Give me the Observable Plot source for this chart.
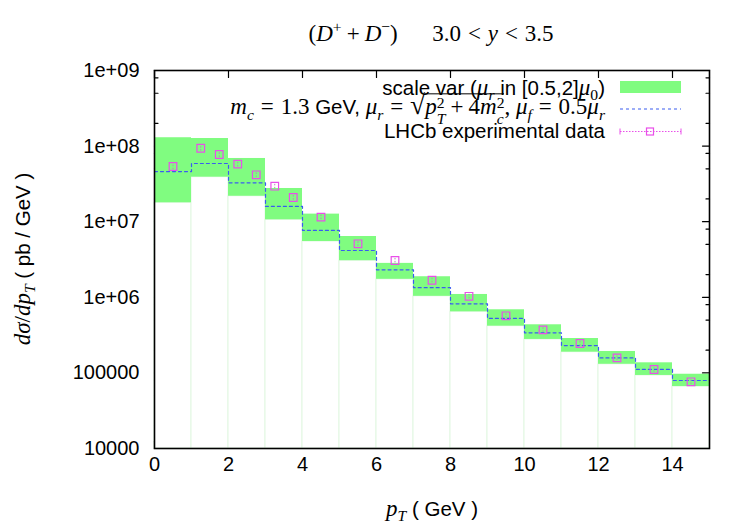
<!DOCTYPE html>
<html>
<head>
<meta charset="utf-8">
<script src="https://cdn.jsdelivr.net/npm/d3@7"></script>
<script src="https://cdn.jsdelivr.net/npm/@observablehq/plot@0.6"></script>
<style>
  html, body { margin: 0; padding: 0; background: white; }
  #wrap { position: relative; width: 750px; height: 525px; font-family: "Liberation Sans", Arial, sans-serif; color: black; }
  #wrap svg { position: absolute; left: 0; top: 0; }
  .lbl { position: absolute; white-space: nowrap; line-height: 1; font-size: 20.5px; }
  .m { font-family: "Liberation Serif", "Times New Roman", serif; font-size: 23px; }
  .m i { font-style: italic; }
  .rel { margin: 0 0.3em; }
  .bin { margin: 0 0.22em; }
  sub, sup { font-size: 68%; line-height: 0; }
  .ss { display: inline-flex; flex-direction: column; font-size: 68%; line-height: 1; vertical-align: 0.38em; }
  .sq { display: inline-block; border-top: 1px solid black; padding-top: 1px; line-height: 1; }
  .rad { font-size: 120%; }
</style>
</head>
<body>
<div id="wrap"></div>
<script>
// Theory bins in pT (GeV)
const binLo = [0, 1, 2, 3, 4, 5, 6, 7, 8, 9, 10, 11, 12, 13, 14];
const binHi = [1, 2, 3, 4, 5, 6, 7, 8, 9, 10, 11, 12, 13, 14, 15];
// Scale-variation envelope (pb/GeV)
const bandLow  = [1.78e7, 3.88e7, 2.17e7, 1.06e7, 5.47e6, 3.05e6, 1.73e6, 1.03e6, 6.43e5, 4.15e5, 2.77e5, 1.88e5, 1.30e5, 9.25e4, 6.6e4];
const bandHigh = [1.29e8, 1.26e8, 6.86e7, 2.75e7, 1.26e7, 6.37e6, 2.81e6, 1.87e6, 1.09e6, 6.84e5, 4.33e5, 2.85e5, 1.92e5, 1.36e5, 9.6e4];
// Central prediction (mu_r = mu_0, mu_f = 0.5 mu_r)
const central  = [4.6e7, 5.89e7, 3.27e7, 1.59e7, 7.66e6, 4.16e6, 2.31e6, 1.34e6, 8.2e5, 5.25e5, 3.39e5, 2.30e5, 1.58e5, 1.11e5, 7.93e4];
// LHCb measurement
const dataPt  = [0.5, 1.25, 1.75, 2.25, 2.75, 3.25, 3.75, 4.5, 5.5, 6.5, 7.5, 8.5, 9.5, 10.5, 11.5, 12.5, 13.5, 14.5];
const dataVal = [5.37e7, 9.37e7, 7.74e7, 5.77e7, 4.17e7, 2.95e7, 2.09e7, 1.15e7, 5.1e6, 3.07e6, 1.68e6, 1.03e6, 5.69e5, 3.71e5, 2.45e5, 1.58e5, 1.11e5, 7.62e4];
const dataErr = [5.0e6, 8.0e6, 6.5e6, 4.6e6, 3.3e6, 2.3e6, 1.6e6, 8.5e5, 3.8e5, 2.2e5, 1.2e5, 7.5e4, 4.2e4, 2.7e4, 1.8e4, 1.2e4, 9.0e3, 6.0e3];
// Axes
const xDomain = [0, 15];
const yDomain = [1e4, 1e9];
const xTicks = [0, 2, 4, 6, 8, 10, 12, 14];
const xTickLabels = ["0", "2", "4", "6", "8", "10", "12", "14"];
const yTicks = [1e4, 1e5, 1e6, 1e7, 1e8, 1e9];
const yTickLabels = ["10000", "100000", "1e+06", "1e+07", "1e+08", "1e+09"];

const bins = binLo.map((lo, i) => ({lo, hi: binHi[i], low: bandLow[i], high: bandHigh[i], c: central[i]}));
const steps = bins.flatMap(b => [{x: b.lo, y: b.c}, {x: b.hi, y: b.c}]);
const points = dataPt.map((x, i) => ({x, y: dataVal[i], lo: dataVal[i] - dataErr[i], hi: dataVal[i] + dataErr[i]}));
const yLabelRows = yTicks.map((v, i) => ({v, t: yTickLabels[i]}));
const xLabelRows = xTicks.map((v, i) => ({v, t: xTickLabels[i]}));

// minor log ticks at 2, 5, 8 within each decade
const yMinor = yTicks.slice(0, -1).flatMap(d => [2, 5, 8].map(m => m * d));

// inward tick shape for the vector mark
const tickShape = { draw(ctx, l) { ctx.moveTo(0, 0); ctx.lineTo(0, -l); } };
const tickMarks = (vals, chan, anchor, rotate, len) =>
  Plot.vector(vals, {[chan]: d => d, frameAnchor: anchor, rotate, length: len, anchor: "start",
    shape: tickShape, stroke: "black", strokeWidth: 1.2});

const green = "#80fc80";
const magenta = "#e94fe9";

const chart = Plot.plot({
  width: 750,
  height: 525,
  marginLeft: 154,
  marginRight: 41,
  marginTop: 70,
  marginBottom: 77,
  style: {fontFamily: "Liberation Sans, Arial, sans-serif", fontSize: "20px", background: "white", overflow: "visible"},
  x: {domain: xDomain, axis: null},
  y: {type: "log", domain: yDomain, axis: null},
  marks: [
    // inward ticks on all four sides (bins are drawn over them)
    tickMarks(yTicks, "y", "left", 90, 7),
    tickMarks(yMinor, "y", "left", 90, 3.5),
    tickMarks(yTicks, "y", "right", -90, 7),
    tickMarks(yMinor, "y", "right", -90, 3.5),
    tickMarks(xTicks, "x", "top", 180, 7),
    tickMarks(xTicks, "x", "bottom", 0, 7),
    // histogram boxes below the envelope
    Plot.rect(bins, {x1: "lo", x2: "hi", y1: () => yDomain[0], y2: "low", fill: "white", stroke: "#e2f7e2", strokeWidth: 1}),
    // scale-variation envelope
    Plot.rect(bins, {x1: "lo", x2: "hi", y1: "low", y2: "high", fill: green}),
    // central prediction
    Plot.line(steps, {x: "x", y: "y", stroke: "#3a5cf0", strokeWidth: 1.2, strokeDasharray: "3,3"}),
    // LHCb data
    Plot.ruleX(points, {x: "x", y1: "lo", y2: "hi", stroke: "#b48cb4", strokeWidth: 1, strokeDasharray: "1.5,1.5"}),
    Plot.dot(points, {x: "x", y: "y", symbol: "square", r: 4.3, stroke: magenta, strokeWidth: 1.2, fill: "none"}),
    // tick labels
    Plot.text(xLabelRows, {x: "v", text: "t", frameAnchor: "bottom", dy: 22, fontSize: 20, fill: "black"}),
    Plot.text(yLabelRows, {y: "v", text: "t", frameAnchor: "left", dx: -15, textAnchor: "end", fontSize: 20, fill: "black"}),
    Plot.frame({stroke: "black", strokeWidth: 1.6})
  ]
});

const wrap = document.getElementById("wrap");
wrap.appendChild(chart);

function addLabel(html, css) {
  const el = document.createElement("div");
  el.className = "lbl";
  el.innerHTML = html;
  Object.assign(el.style, css);
  wrap.appendChild(el);
  return el;
}

// title
addLabel('<span class="m">(<i>D</i><sup>+</sup><span class="bin">+</span><i>D</i><sup>&minus;</sup>)&emsp;&ensp;3.0<span class="rel">&lt;</span><i>y</i><span class="rel">&lt;</span>3.5</span>',
  {left: "431px", top: "33px", transform: "translate(-50%, -50%)"});

// axis titles
addLabel('<span class="m"><i>p</i><sub><i>T</i></sub></span> ( GeV )',
  {left: "432px", top: "508px", transform: "translate(-50%, -50%)"});
addLabel('<span class="m"><i>d&sigma;</i>/<i>dp</i><sub><i>T</i></sub></span> ( pb / GeV )',
  {left: "22px", top: "259px", transform: "translate(-50%, -50%) rotate(-90deg)"});

// legend text, right-aligned
const legRight = 750 - 605;
addLabel('scale var (<span class="m"><i>&mu;</i><sub><i>r</i></sub></span> in [0.5,2]<span class="m"><i>&mu;</i><sub>0</sub></span>)',
  {right: legRight + "px", top: "87px", transform: "translateY(-50%)"});
addLabel('<span class="m"><i>m</i><sub><i>c</i></sub><span class="rel">=</span>1.3</span> GeV, <span class="m"><i>&mu;</i><sub><i>r</i></sub><span class="rel">=</span><span class="rad">&radic;</span><span class="sq"><i>p</i><span class="ss"><span>2</span><i>T</i></span><span class="bin">+</span>4<i>m</i><span class="ss"><span>2</span><i>c</i></span></span>, <i>&mu;</i><sub><i>f</i></sub><span class="rel">=</span>0.5<i>&mu;</i><sub><i>r</i></sub></span>',
  {right: legRight + "px", top: "109px", transform: "translateY(-50%)"});
addLabel('LHCb experimental data',
  {right: legRight + "px", top: "131px", transform: "translateY(-50%)"});

// legend samples
const svg = d3.select(chart);
const leg = svg.append("g");
leg.append("rect").attr("x", 620).attr("y", 81).attr("width", 61).attr("height", 12).attr("fill", green);
leg.append("line").attr("x1", 620).attr("x2", 681).attr("y1", 109).attr("y2", 109)
  .attr("stroke", "#3a5cf0").attr("stroke-width", 1.2).attr("stroke-dasharray", "3,3");
leg.append("line").attr("x1", 620).attr("x2", 681).attr("y1", 131.5).attr("y2", 131.5)
  .attr("stroke", magenta).attr("stroke-width", 1).attr("stroke-dasharray", "1.5,1.5");
[620, 681].forEach(x => leg.append("line").attr("x1", x).attr("x2", x).attr("y1", 128.5).attr("y2", 134.5)
  .attr("stroke", magenta).attr("stroke-width", 1));
leg.append("rect").attr("x", 646.5).attr("y", 128).attr("width", 7).attr("height", 7)
  .attr("fill", "none").attr("stroke", magenta).attr("stroke-width", 1.2);
</script>
</body>
</html>
